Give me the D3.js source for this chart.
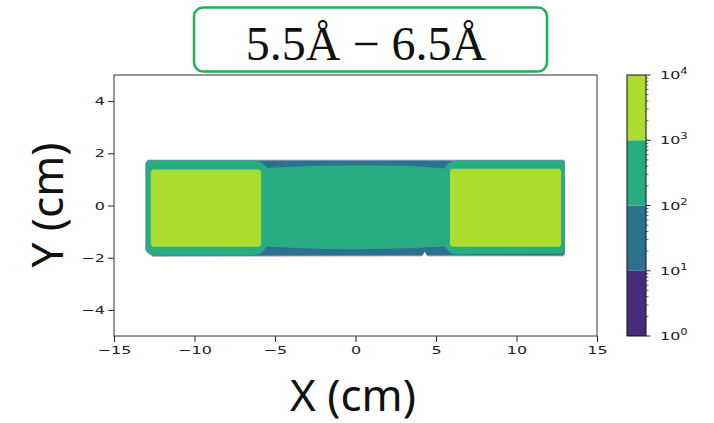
<!DOCTYPE html>
<html><head><meta charset="utf-8">
<script src="https://cdn.jsdelivr.net/npm/d3@7"></script>
<style>html,body{margin:0;padding:0;background:#fff;}svg{display:block;}</style>
</head><body>
<svg id="chart" width="714" height="423"></svg>
<script>
// ---------- data ----------
const titleText = "5.5Å − 6.5Å";
const xLabel = "X (cm)";
const yLabel = "Y (cm)";
const xTicks = [-15, -10, -5, 0, 5, 10, 15];
const yTicks = [-4, -2, 0, 2, 4];
const levels = [1, 10, 100, 1000, 10000];
const bandColors = ["#472c7a", "#2c728e", "#27ad81", "#addc30"];
const cbarExponents = [0, 1, 2, 3, 4];

// contour regions (data coords, cm): value >= level
const region1 = [[-13.06,1.62],[-12.92,1.76],[12.96,1.76],[13.02,1.66],[13.02,-1.86],[12.9,-1.95],
  [4.46,-1.95],[4.3,-1.79],[4.14,-1.95],[-12.62,-1.97],[-13.06,-1.72]];
const region10 = [[-13.03,1.61],[-12.9,1.72],[12.94,1.72],[12.99,1.64],[12.99,-1.84],[12.88,-1.92],
  [4.45,-1.92],[4.3,-1.76],[4.15,-1.92],[-12.6,-1.93],[-13.03,-1.7]];
const region100 = [[-13.02,1.6],[-12.86,1.72],[-6.25,1.72],[-5.85,1.66],[-5.66,1.54],[-5.5,1.44],
  [-4,1.48],[-2,1.52],[0,1.54],[2,1.53],[4,1.49],[5.5,1.42],[5.66,1.55],[5.86,1.67],[6.25,1.72],
  [12.8,1.72],[12.97,1.62],[12.97,-1.72],[12.84,-1.84],[6.25,-1.88],[5.86,-1.8],[5.64,-1.64],
  [5.5,-1.57],[4,-1.62],[2,-1.66],[0,-1.68],[-2,-1.67],[-4,-1.62],[-5.52,-1.57],[-5.66,-1.7],
  [-5.92,-1.85],[-6.3,-1.9],[-12.62,-1.91],[-12.96,-1.8],[-13.02,-1.6]];
const region1000L = [[-12.72,1.3],[-12.6,1.38],[-6.0,1.38],[-5.86,1.3],[-5.86,-1.49],[-5.96,-1.58],
  [-12.6,-1.58],[-12.72,-1.49]];
const region1000R = [[5.87,1.33],[5.98,1.41],[12.66,1.41],[12.77,1.33],[12.77,-1.49],[12.66,-1.58],
  [5.98,-1.58],[5.87,-1.49]];

// ---------- drawing ----------
const svg = d3.select("#chart");
const x = d3.scaleLinear().domain([-15, 15]).range([114, 597]);
const y = d3.scaleLinear().domain([-5, 5]).range([336, 75]);
const c = d3.scaleLog().domain([1, 10000]).range([336, 75]);
const stretch = 1.45;

const line = d3.line().x(d => x(d[0])).y(d => y(d[1])).curve(d3.curveLinearClosed);
const plot = svg.append("g");
plot.append("path").attr("d", line(region1)).attr("fill", bandColors[0]).attr("fill-opacity", 0.35);
plot.append("path").attr("d", line(region10)).attr("fill", bandColors[1]);
plot.append("path").attr("d", line(region100)).attr("fill", bandColors[2]);
[region1000L, region1000R].forEach(r =>
  plot.append("path").attr("d", line(r)).attr("fill", bandColors[3]));

// axes
const fmt = d3.format("");
const gx = svg.append("g").attr("transform", "translate(0,336)")
  .call(d3.axisBottom(x).tickValues(xTicks).tickSize(6).tickPadding(4).tickFormat(fmt));
const gy = svg.append("g").attr("transform", "translate(114,0)")
  .call(d3.axisLeft(y).tickValues(yTicks).tickSize(6).tickPadding(4).tickFormat(fmt));
[gx, gy].forEach(g => {
  g.select(".domain").remove();
  g.selectAll("line").attr("stroke", "#222");
  g.selectAll("text").attr("font-family", "DejaVu Sans").attr("font-size", 11).attr("fill", "#222");
});
gx.selectAll("text").attr("transform", `scale(${stretch},1)`);
gy.selectAll("text").attr("x", -9 / stretch).attr("transform", `scale(${stretch},1)`);

svg.append("rect").attr("x", x(-15)).attr("y", y(5)).attr("width", x(15) - x(-15))
  .attr("height", y(-5) - y(5)).attr("fill", "none").attr("stroke", "#333").attr("stroke-width", 1);

// colorbar
const cbX = 627, cbW = 19;
const cb = svg.append("g");
for (let i = 0; i < bandColors.length; i++) {
  cb.append("rect").attr("x", cbX).attr("y", c(levels[i + 1])).attr("width", cbW)
    .attr("height", c(levels[i]) - c(levels[i + 1])).attr("fill", bandColors[i]);
}
cb.append("rect").attr("x", cbX).attr("y", c(10000)).attr("width", cbW)
  .attr("height", c(1) - c(10000)).attr("fill", "none").attr("stroke", "#111").attr("stroke-width", 1);
const minor = [];
for (let k = 0; k < 4; k++) for (let m = 2; m <= 9; m++) minor.push(m * Math.pow(10, k));
cb.selectAll(".mn").data(minor).join("line").attr("x1", cbX + cbW).attr("x2", cbX + cbW + 2.5)
  .attr("y1", d => c(d)).attr("y2", d => c(d)).attr("stroke", "#222").attr("stroke-width", 0.7);
cb.selectAll(".mj").data(levels).join("line").attr("x1", cbX + cbW).attr("x2", cbX + cbW + 4.5)
  .attr("y1", d => c(d)).attr("y2", d => c(d)).attr("stroke", "#222").attr("stroke-width", 1);
cbarExponents.forEach(e => {
  const t = cb.append("text")
    .attr("transform", `translate(660,${c(Math.pow(10, e)) + 4}) scale(${stretch},1)`)
    .attr("font-family", "DejaVu Sans").attr("font-size", 11).attr("fill", "#222");
  t.append("tspan").text("10");
  t.append("tspan").attr("dy", -5).attr("font-size", 8).text(String(e));
});

// axis labels
svg.append("text").attr("x", 353).attr("y", 411).attr("text-anchor", "middle")
  .attr("font-family", "Noto Sans").attr("font-size", 44).attr("fill", "#111").text(xLabel);
svg.append("text").attr("transform", "translate(63,205) rotate(-90)").attr("text-anchor", "middle")
  .attr("font-family", "Noto Sans").attr("font-size", 44).attr("fill", "#111").text(yLabel);

// title box
svg.append("rect").attr("x", 194).attr("y", 7.5).attr("width", 353).attr("height", 64).attr("rx", 9)
  .attr("fill", "#fff").attr("stroke", "#1db054").attr("stroke-width", 2.5);
svg.append("text").attr("x", 366).attr("y", 60).attr("text-anchor", "middle")
  .attr("font-family", "Liberation Serif").attr("font-size", 48).attr("fill", "#111").text(titleText);
</script>
</body></html>
